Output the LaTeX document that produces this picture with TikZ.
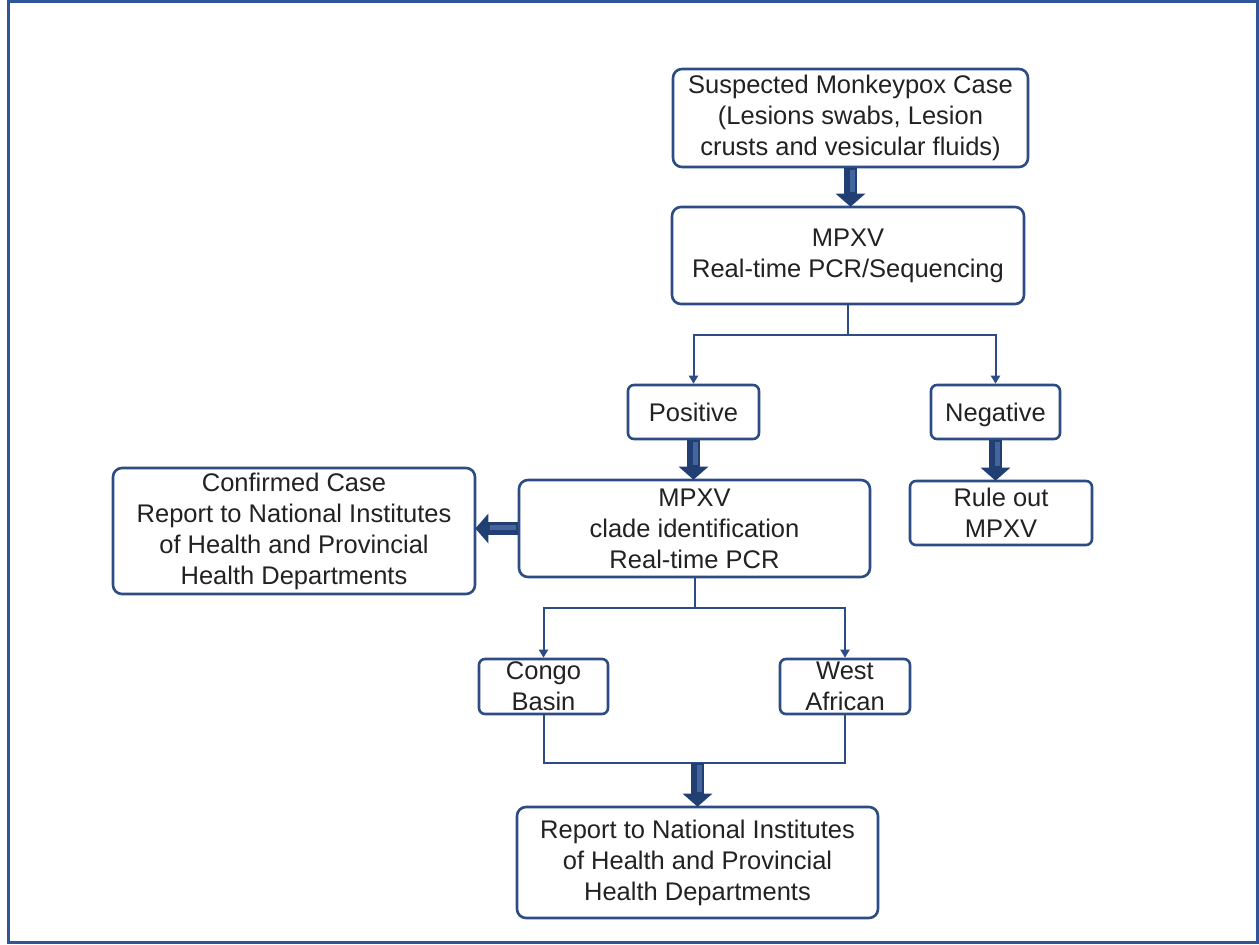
\documentclass[tikz,border=0pt]{standalone}
\usepackage{fontspec}
\setmainfont{Liberation Sans}
\usetikzlibrary{arrows.meta}
\definecolor{frameblue}{HTML}{2F5597}
\definecolor{boxblue}{HTML}{2D4C84}
\definecolor{arrowblue}{HTML}{223F74}
\definecolor{hlblue}{HTML}{44659E}
\definecolor{txt}{HTML}{222222}
\begin{document}
\begin{tikzpicture}[x=1pt,y=-1pt,
  box/.style={draw=boxblue, line width=2.6pt, rounded corners=9pt, fill=white,
    text=txt, align=center, inner sep=0pt, font=\fontsize{25.5}{31}\selectfont},
  conn/.style={draw=boxblue, line width=2pt, -{Triangle[width=9pt,length=8pt]}},
  plain/.style={draw=boxblue, line width=2pt},
  block/.style={draw=arrowblue, line width=13pt, -{Triangle[width=29pt,length=13pt]}, shorten >=-1pt},
  vhl/.style={postaction={draw=hlblue, line width=5pt, -, shorten >=14pt, shorten <=2pt, transform canvas={xshift=1.5pt}}},
  hhl/.style={postaction={draw=hlblue, line width=5pt, -, shorten >=14pt, shorten <=2pt, transform canvas={yshift=1.5pt}}}
  ]
\useasboundingbox (0,0) rectangle (1259,945);
\draw[frameblue, line width=3pt] (8.5,1.5) rectangle (1257.5,942.5);

\node[box, minimum width=355pt, minimum height=98pt] (b1) at (850.5,118)
  {Suspected Monkeypox Case\\(Lesions swabs, Lesion\\crusts and vesicular fluids)};
\node[box, minimum width=352pt, minimum height=97pt] (b2) at (848,255.5)
  {MPXV\\Real-time PCR/Sequencing};
\node[box, minimum width=131pt, minimum height=54pt, rounded corners=6pt] (pos) at (693.5,412) {Positive};
\node[box, minimum width=129pt, minimum height=54pt, rounded corners=6pt] (neg) at (995.5,412) {Ne\smash{g}ative};
\node[box, minimum width=351pt, minimum height=97pt] (clade) at (694.5,528.5)
  {MPXV\\clade identification\\Real-time PCR};
\node[box, minimum width=182pt, minimum height=64pt, rounded corners=6pt] (rule) at (1001,513)
  {Rule out\\MPXV};
\node[box, minimum width=362pt, minimum height=126pt] (conf) at (294,531)
  {Confirmed Case\\Report to National Institutes\\of Health and Provincial\\Health Departments};
\node[box, minimum width=129pt, minimum height=55pt, rounded corners=6pt] (congo) at (543.5,686.5)
  {Congo\\Basin};
\node[box, minimum width=130pt, minimum height=55pt, rounded corners=6pt] (west) at (845,686.5)
  {West\\African};
\node[box, minimum width=361pt, minimum height=111pt] (report) at (697.5,862.5)
  {Report to National Institutes\\of Health and Provincial\\Health Departments};

\coordinate (split1) at (848,335);
\draw[plain] (b2.south) -- (split1);
\draw[conn] (split1) -| (pos.north);
\draw[conn] (split1) -| (neg.north);
\coordinate (split2) at (694.5,608);
\draw[plain] (clade.south) -- (split2);
\draw[conn] (split2) -| (congo.north);
\draw[conn] (split2) -| (west.north);
\coordinate (m) at (697.5,763);
\draw[plain] (congo.south) |- (m) -| (west.south);

\draw[block, vhl] (b1.south) -- (b1.south |- b2.north);
\draw[block, vhl] (pos.south) -- (pos.south |- clade.north);
\draw[block, vhl] (neg.south) -- (neg.south |- rule.north);
\draw[block, hhl] (clade.west) -- (conf.east |- clade.west);
\draw[block, vhl] (m) -- (report.north);
\end{tikzpicture}
\end{document}
